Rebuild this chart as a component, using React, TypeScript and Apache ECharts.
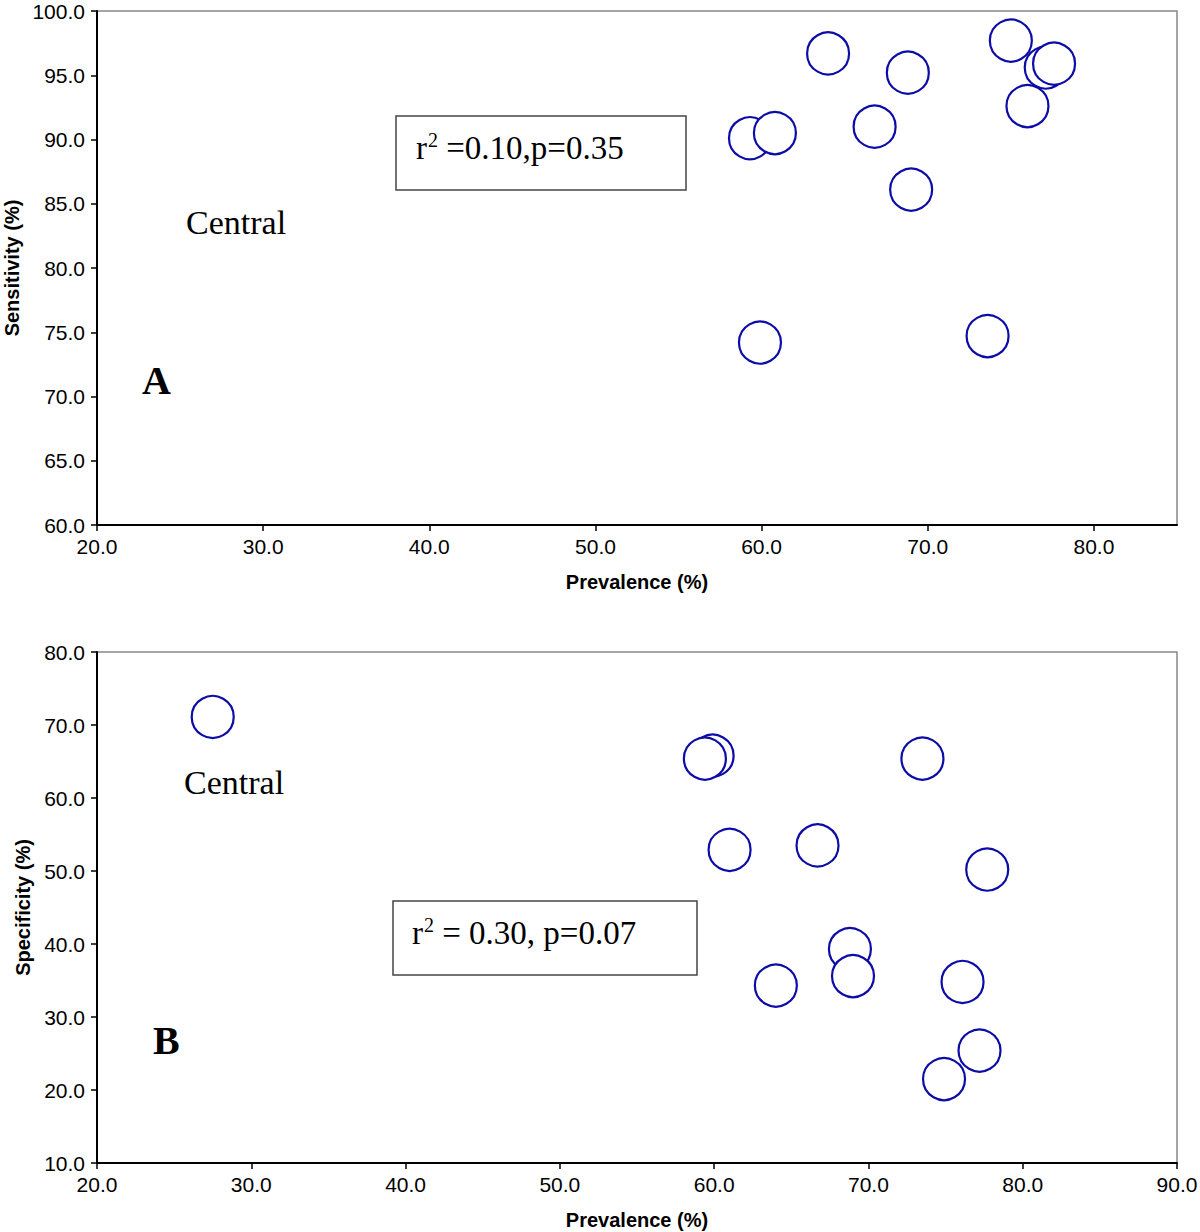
import React, { useEffect, useRef } from "react";
import * as echarts from "echarts";

// Panel A: Prevalence vs Sensitivity
const prevalenceA = [59.3, 60.8, 64.0, 66.8, 68.8, 69.0, 59.9, 73.6, 75.0, 76.0, 77.1, 77.6];
const sensitivity = [90.1, 90.5, 96.7, 91.0, 95.2, 86.1, 74.2, 74.7, 97.7, 92.6, 95.6, 95.9];

// Panel B: Prevalence vs Specificity
const prevalenceB = [27.5, 59.9, 59.4, 73.5, 61.0, 66.7, 77.7, 68.8, 69.0, 64.0, 76.1, 74.9, 77.2];
const specificity = [71.1, 65.8, 65.4, 65.4, 52.9, 53.5, 50.2, 39.3, 35.6, 34.3, 34.8, 21.5, 25.4];

const xTicksA = [20, 30, 40, 50, 60, 70, 80];
const xTicksB = [20, 30, 40, 50, 60, 70, 80, 90];

const statA = " =0.10,p=0.35";
const statB = " = 0.30, p=0.07";

const SANS = "'Liberation Sans', Arial, Helvetica, sans-serif";
const SERIF = "'Liberation Serif', 'Times New Roman', serif";

function axisX(min: number, max: number, ticks: number[], gridIndex: number) {
  return {
    type: "value",
    gridIndex,
    min,
    max,
    interval: 10,
    name: "Prevalence (%)",
    nameLocation: "middle",
    nameGap: 47,
    nameTextStyle: { fontFamily: SANS, fontWeight: "bold", fontSize: 20, color: "#000" },
    axisLine: { show: true, onZero: false, lineStyle: { color: "#000", width: 2 } },
    axisTick: { show: true, length: 6, customValues: ticks, lineStyle: { color: "#000", width: 1.5 } },
    axisLabel: {
      customValues: ticks,
      fontFamily: SANS,
      fontSize: 21,
      color: "#000",
      margin: 11,
      formatter: (v: number) => v.toFixed(1),
    },
    splitLine: { show: false },
  };
}

function axisY(min: number, max: number, interval: number, name: string, gap: number, gridIndex: number) {
  return {
    type: "value",
    gridIndex,
    min,
    max,
    interval,
    name,
    nameLocation: "middle",
    nameGap: gap,
    nameTextStyle: { fontFamily: SANS, fontWeight: "bold", fontSize: 20, color: "#000" },
    axisLine: { show: true, onZero: false, lineStyle: { color: "#000", width: 2 } },
    axisTick: { show: true, length: 6, lineStyle: { color: "#000", width: 1.5 } },
    axisLabel: {
      fontFamily: SANS,
      fontSize: 21,
      color: "#000",
      margin: 12,
      formatter: (v: number) => v.toFixed(1),
    },
    splitLine: { show: false },
  };
}

const circleStyle = {
  color: "#ffffff",
  borderColor: "#0c0ca6",
  borderWidth: 2.2,
  opacity: 1,
};

function statText(x: number, y: number, rest: string) {
  return {
    type: "text",
    x,
    y,
    z: 20,
    style: {
      text: "{b|r}{s|2}{b|" + rest + "}",
      verticalAlign: "middle",
      align: "left",
      rich: {
        b: { fontFamily: SERIF, fontSize: 33, color: "#000", lineHeight: 36 },
        s: { fontFamily: SERIF, fontSize: 20, color: "#000", verticalAlign: "top", lineHeight: 36, padding: [0, 0, 0, 1] },
      },
    },
  };
}

export default function App() {
  const ref = useRef<HTMLDivElement>(null);
  useEffect(() => {
    if (!ref.current) return;
    const chart = echarts.init(ref.current, null, { renderer: "svg" });
    chart.setOption({
      animation: false,
      backgroundColor: "#fff",
      grid: [
        { left: 97, top: 11, width: 1080, height: 514, show: true, borderColor: "#888", borderWidth: 1.5, outerBoundsMode: "none", containLabel: false },
        { left: 97, top: 652, width: 1080, height: 511, show: true, borderColor: "#888", borderWidth: 1.5, outerBoundsMode: "none", containLabel: false },
      ],
      xAxis: [axisX(20, 85, xTicksA, 0), axisX(20, 90, xTicksB, 1)],
      yAxis: [
        axisY(60, 100, 5, "Sensitivity (%)", 75, 0),
        axisY(10, 80, 10, "Specificity (%)", 62, 1),
      ],
      series: [
        {
          type: "scatter",
          xAxisIndex: 0,
          yAxisIndex: 0,
          symbol: "circle",
          symbolSize: 42,
          itemStyle: circleStyle,
          emphasis: { disabled: true },
          data: prevalenceA.map((p, i) => [p, sensitivity[i]]),
          z: 5,
        },
        {
          type: "scatter",
          xAxisIndex: 1,
          yAxisIndex: 1,
          symbol: "circle",
          symbolSize: 42,
          itemStyle: circleStyle,
          emphasis: { disabled: true },
          data: prevalenceB.map((p, i) => [p, specificity[i]]),
          z: 5,
        },
      ],
      graphic: [
        {
          type: "rect",
          z: 10,
          shape: { x: 396, y: 116, width: 290, height: 74 },
          style: { fill: "#fff", stroke: "#444", lineWidth: 1.5 },
        },
        statText(416, 148, statA),
        {
          type: "text",
          x: 186,
          y: 222,
          z: 10,
          style: { text: "Central", fontFamily: SERIF, fontSize: 34, fill: "#000", verticalAlign: "middle" },
        },
        {
          type: "text",
          x: 142,
          y: 380,
          z: 10,
          style: { text: "A", fontFamily: SERIF, fontSize: 40, fontWeight: "bold", fill: "#000", verticalAlign: "middle" },
        },
        {
          type: "rect",
          z: 10,
          shape: { x: 393, y: 901, width: 304, height: 74 },
          style: { fill: "#fff", stroke: "#444", lineWidth: 1.5 },
        },
        statText(412, 933, statB),
        {
          type: "text",
          x: 184,
          y: 782,
          z: 10,
          style: { text: "Central", fontFamily: SERIF, fontSize: 34, fill: "#000", verticalAlign: "middle" },
        },
        {
          type: "text",
          x: 153,
          y: 1040,
          z: 10,
          style: { text: "B", fontFamily: SERIF, fontSize: 40, fontWeight: "bold", fill: "#000", verticalAlign: "middle" },
        },
      ],
    });
    return () => chart.dispose();
  }, []);
  return (
    <div
      ref={ref}
      style={{ position: "absolute", left: 0, top: 0, width: 1200, height: 1232, background: "#fff" }}
    />
  );
}
